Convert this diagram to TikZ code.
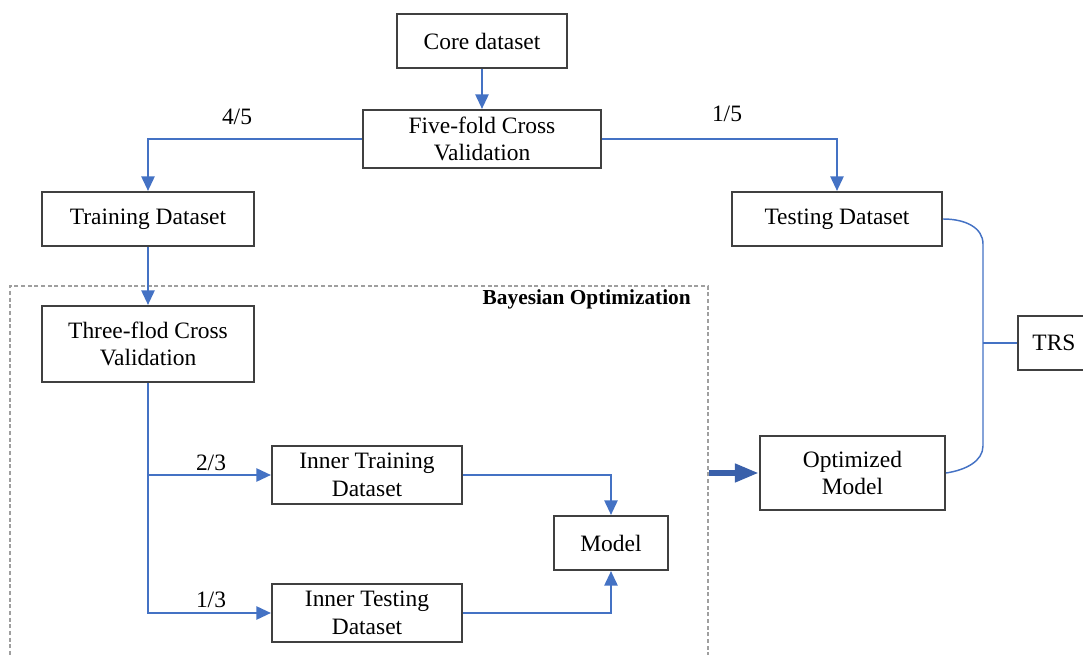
\documentclass[tikz,border=0pt]{standalone}
\usepackage{fontspec}
\setmainfont{Liberation Serif}
\usetikzlibrary{arrows.meta}

\definecolor{wireblue}{RGB}{68,114,196}
\definecolor{arrowblue}{RGB}{58,96,170}
\definecolor{boxgray}{RGB}{64,64,64}

\begin{document}
\begin{tikzpicture}[x=0.75pt,y=0.75pt,yscale=-1,xscale=1,
    box/.style={draw=boxgray,line width=1.6pt,fill=white,align=center,inner sep=0pt,
        font=\fontsize{17.6}{20.5}\selectfont},
    wire/.style={draw=wireblue,line width=1.4pt,-{Triangle[length=11pt,width=10pt]}},
    thinwire/.style={draw=wireblue,line width=1.1pt},
    bigarrow/.style={draw=arrowblue,line width=5pt,-{Triangle[length=18pt,width=13pt]}},
    frac/.style={inner sep=0.75pt,font=\fontsize{17.6}{20.5}\selectfont},
    bayes/.style={draw=gray!75,line width=0.8pt,dash pattern=on 3pt off 2pt,inner sep=0pt}]
        \useasboundingbox (0,0) rectangle (1083,655);
        
        %Shape: Dashed Rectangle
        \node [bayes,minimum width=523.5pt,minimum height=284.25pt] (bayes) at (359,475.5) {};
        \node [anchor=north east,inner sep=0.75pt,font=\fontsize{16}{19}\selectfont\bfseries] (bayestitle) at (692,288) {Bayesian Optimization};
        
        %Shape: Rectangle
        \node [box,minimum width=127.5pt,minimum height=40.5pt] (core) at (482,41) {Core dataset};
        \node [box,minimum width=178.5pt,minimum height=43.5pt] (five) at (482,139) {Five-fold Cross\\Validation};
        \node [box,minimum width=159pt,minimum height=40.5pt] (train) at (148,219) {Training Dataset};
        \node [box,minimum width=157.5pt,minimum height=40.5pt] (test) at (837,219) {Testing Dataset};
        \node [box,minimum width=159pt,minimum height=57pt] (three) at (148,344) {Three-flod Cross\\Validation};
        \node [box,minimum width=142.5pt,minimum height=43.5pt] (intrain) at (367,475) {Inner Training\\Dataset};
        \node [box,minimum width=142.5pt,minimum height=43.5pt] (intest) at (367,613) {Inner Testing\\Dataset};
        \node [box,minimum width=85.5pt,minimum height=40.5pt] (model) at (611,543) {Model};
        \node [box,minimum width=138.75pt,minimum height=55.5pt] (opt) at (852.5,473) {Optimized\\Model};
        \node [box,minimum width=54pt,minimum height=40.5pt] (trs) at (1054,343) {TRS};
        
        %Straight Lines
        \draw [wire] (core) -- (five);
        \draw [wire] (five.west) -| (train.north);
        \draw [wire] (five.east) -| (test.north);
        \draw [wire] (train) -- (three);
        \draw [wire] (three.south) |- (intrain.west);
        \draw [wire] (three.south) |- (intest.west);
        \draw [wire] (intrain.east) -| (model.north);
        \draw [wire] (intest.east) -| (model.south);
        \draw [bigarrow] (bayes.east |- opt.west) -- (opt.west);
        
        %Curve Lines
        \coordinate (bus) at (983,343);
        \draw [thinwire] (test.east) .. controls (966,219) and (983,228) .. (983,244) -- (983,446) .. controls (983,461) and (966,470) .. (opt.east);
        \draw [thinwire] (bus) -- (trs.west);
        
        % Text Node
        \node [frac] (f45) at (237,117) {4/5};
        \node [frac] (f15) at (727,114) {1/5};
        \node [frac] (f23) at (211,463) {2/3};
        \node [frac] (f13) at (211,600) {1/3};
    \end{tikzpicture}
\end{document}
